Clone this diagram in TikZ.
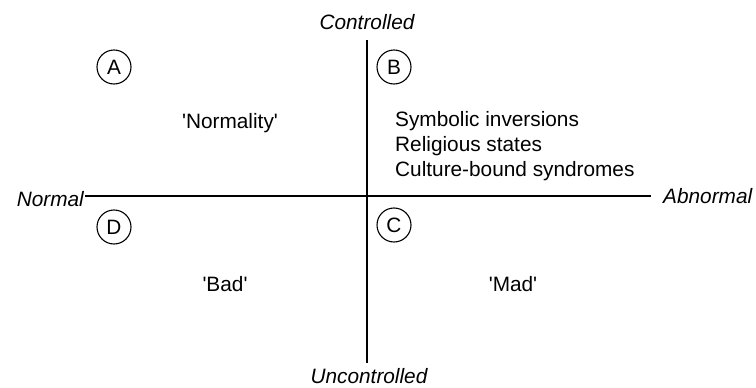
\documentclass[tikz,border=0pt]{standalone}
\usepackage{fontspec}
\setmainfont{Liberation Sans}[Ligatures=TeXOff]
\begin{document}
\begin{tikzpicture}[x=1pt,y=-1pt,
  every node/.style={font=\fontsize{20.8}{25}\selectfont, inner sep=0pt},
  axislabel/.style={font=\fontsize{20.8}{25}\selectfont\itshape},
  quad/.style={draw, circle, line width=1.1pt, minimum size=34pt},
  axis/.style={line width=1.3pt}]
\useasboundingbox (0,0) rectangle (756,388);
% axes
\coordinate (top) at (367,40);
\coordinate (bottom) at (367,363);
\coordinate (left) at (85,196);
\coordinate (right) at (651,196);
\draw[axis] (top) -- (bottom);
\draw[axis] (left) -- (right);
% axis labels
\node[axislabel, anchor=base] (ctrl) at (367,30) {Controlled};
\node[axislabel, anchor=base] (unctrl) at (369,383) {Uncontrolled};
\node[axislabel, anchor=base east] (normal) at (84,206) {Normal};
\node[axislabel, anchor=base west] (abnormal) at (663,203) {Abnormal};
% quadrant markers
\node[quad] (A) at (114,67) {A};
\node[quad] (B) at (394,67) {B};
\node[quad] (D) at (114,227) {D};
\node[quad] (C) at (394,225) {C};
% quadrant contents
\node[anchor=base] (normality) at (230,128) {'Normality'};
\node[anchor=base west] (b1) at (395,126) {Symbolic inversions};
\node[anchor=base west] (b2) at (395,151) {Religious states};
\node[anchor=base west] (b3) at (395,176) {Culture-bound syndromes};
\node[anchor=base] (bad) at (225,291) {'Bad'};
\node[anchor=base] (mad) at (513,291) {'Mad'};
\end{tikzpicture}
\end{document}
